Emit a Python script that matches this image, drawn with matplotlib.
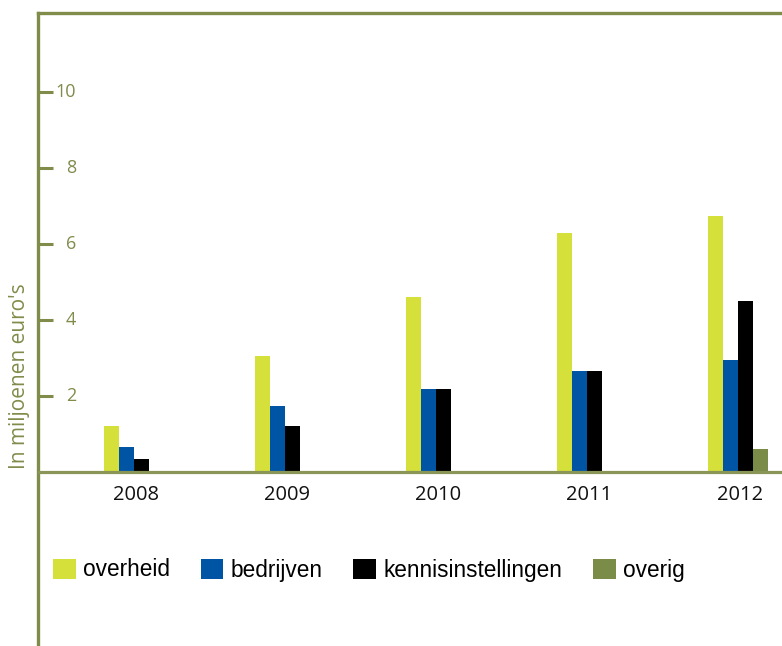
import matplotlib.pyplot as plt
import numpy as np
from matplotlib.patches import Patch

years = ["2008", "2009", "2010", "2011", "2012"]
series = ["overheid", "bedrijven", "kennisinstellingen", "overig"]
overheid = [1.2, 3.05, 4.6, 6.29, 6.74]
bedrijven = [0.66, 1.74, 2.18, 2.66, 2.95]
kennisinstellingen = [0.34, 1.2, 2.18, 2.66, 4.5]
overig = [0, 0, 0, 0, 0.6]
yticks = [2, 4, 6, 8, 10]

colors = ["#d6e03b", "#0054a4", "#000000", "#7b8b48"]
green = "#7f8c4a"
legfont = ["Liberation Sans", "DejaVu Sans"]
plain = ["Open Sans", "DejaVu Sans"]

W, H = 782, 646
fig = plt.figure(figsize=(W / 100, H / 100), dpi=100)
ax = fig.add_axes([38 / W, 0, 1 - 38 / W, (H - 13) / H])

x = np.arange(len(years))
w = 0.1
for k, vals in enumerate([overheid, bedrijven, kennisinstellingen, overig]):
    ax.bar(x + (k - 1.5) * w, vals, width=w, color=colors[k], linewidth=0)

ax.set_xlim(-0.637, 4.29)
ax.set_ylim(-4.58, 12.08)
ax.axhline(0, color="#8a9658", lw=2.3, zorder=3)

for s in ["right", "bottom"]:
    ax.spines[s].set_visible(False)
for s in ["left", "top"]:
    ax.spines[s].set_color(green)
    ax.spines[s].set_linewidth(2.4)

ax.set_xticks([])
ax.set_yticks(yticks)
ax.tick_params(axis="y", direction="in", length=11, width=2.2, color=green,
               labelleft=False)
for v in yticks:
    ax.text(38 / 744, v, str(v), transform=ax.get_yaxis_transform(),
            ha="right", va="center", color=green, fontsize=13, family=plain)

for i, yr in enumerate(years):
    ax.text(i + 0.01, -0.6, yr, ha="center", va="center", color="#111111",
            fontsize=14.5, family=plain)

fig.text(20 / W, 1 - 376 / H, "In miljoenen euro's", rotation=90,
         ha="center", va="center", color=green, fontsize=15, family=plain)

handles = [Patch(facecolor=c, edgecolor="none", label=l) for c, l in zip(colors, series)]
fig.legend(handles=handles, loc="center left", bbox_to_anchor=(53 / W, 1 - 570 / H),
           ncol=4, frameon=False, borderpad=0, borderaxespad=0,
           handlelength=1.0, handleheight=1.0, handletextpad=0.33,
           columnspacing=1.35, prop={"family": legfont, "size": 16.3})

fig.savefig("out.png", dpi=100)
